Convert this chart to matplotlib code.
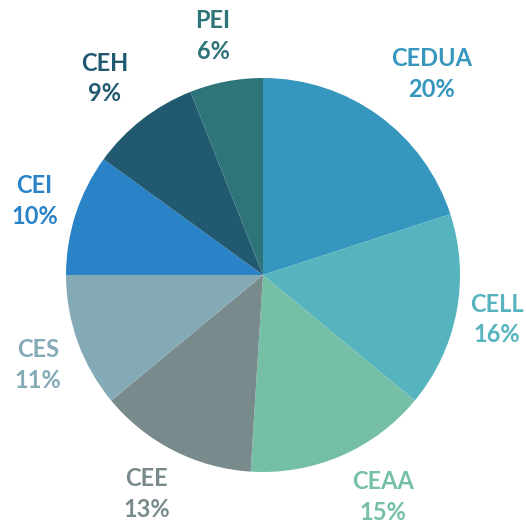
import numpy as np
import matplotlib.pyplot as plt

# parts du total par centre (%)
labels = ["CEDUA", "CELL", "CEAA", "CEE", "CES", "CEI", "CEH", "PEI"]
values = [20, 16, 15, 13, 11, 10, 9, 6]
colors = ["#3596BE", "#56B4BE", "#75BFA7", "#788A8C",
          "#84ABB5", "#2A82C7", "#215A70", "#2E7478"]

# placement des etiquettes (facon "meilleur ajustement" d'Excel)
label_dist = [1.33, 1.21, 1.28, 1.26, 1.23, 1.22, 1.28, 1.24]
label_shift = [-4, 0, 5, -1, 2, 0, 1, 1]  # degres

plt.rcParams['font.family'] = ['Lato', 'DejaVu Sans']

fig = plt.figure(figsize=(5.26, 5.25), dpi=100)
ax = fig.add_axes([0, 0, 1, 1])

wedges, _ = ax.pie(values, colors=colors, startangle=90, counterclock=False,
                   radius=1, wedgeprops=dict(linewidth=0))

# etiquettes autour du camembert
for w, lab, val, col, r, s in zip(wedges, labels, values, colors,
                                  label_dist, label_shift):
    ang = np.deg2rad((w.theta1 + w.theta2) / 2 + s)
    ax.text(r * np.cos(ang), r * np.sin(ang), f"{lab}\n{val}%",
            ha='center', va='center', color=col, fontsize=17,
            fontweight='bold', linespacing=1.4)

ax.set_xlim(-263 / 197, 263 / 197)
ax.set_ylim(-250 / 197, 275 / 197)
ax.axis('off')

fig.savefig("out.png", dpi=100)
